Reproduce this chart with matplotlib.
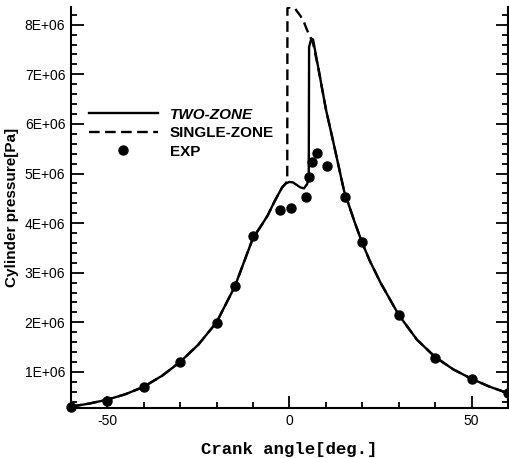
import matplotlib
matplotlib.use("Agg")
import matplotlib.pyplot as plt
from matplotlib.ticker import MultipleLocator

# crank angle [deg] and pressure [Pa]
two_zone_x = [-60, -55, -50, -45, -40, -35, -30, -25, -20, -15, -10, -8, -6, -4, -2,
              -1, 0, 1, 2, 3, 4, 4.8, 5.3, 5.4, 6, 6.5, 8, 10, 12, 15, 18, 20, 22,
              25, 30, 35, 40, 45, 50, 55, 60]
two_zone_y = [0.30e6, 0.36e6, 0.44e6, 0.55e6, 0.70e6, 0.92e6, 1.20e6, 1.55e6, 2.00e6,
              2.72e6, 3.70e6, 3.92e6, 4.15e6, 4.45e6, 4.72e6, 4.80e6, 4.83e6, 4.82e6,
              4.77e6, 4.72e6, 4.70e6, 4.78e6, 4.88e6, 7.55e6, 7.72e6, 7.70e6, 7.10e6,
              6.30e6, 5.65e6, 4.65e6, 4.00e6, 3.60e6, 3.25e6, 2.80e6, 2.15e6, 1.65e6,
              1.30e6, 1.05e6, 0.86e6, 0.70e6, 0.57e6]

single_zone_x = [-60, -55, -50, -45, -40, -35, -30, -25, -20, -15, -10, -8, -6, -4, -2,
                 -1, -0.6, -0.55, 0, 1.5, 3, 4, 4.8, 5.7, 6.5, 8, 10, 12, 15, 18, 20,
                 22, 25, 30, 35, 40, 45, 50, 55, 60]
single_zone_y = [0.30e6, 0.36e6, 0.44e6, 0.55e6, 0.70e6, 0.92e6, 1.20e6, 1.55e6, 2.00e6,
                 2.72e6, 3.70e6, 3.92e6, 4.15e6, 4.45e6, 4.72e6, 4.80e6, 4.85e6, 8.33e6,
                 8.35e6, 8.33e6, 8.18e6, 8.05e6, 7.90e6, 7.76e6, 7.62e6, 7.10e6, 6.30e6,
                 5.65e6, 4.65e6, 4.00e6, 3.60e6, 3.25e6, 2.80e6, 2.15e6, 1.65e6, 1.30e6,
                 1.05e6, 0.86e6, 0.70e6, 0.57e6]

exp_x = [-60, -50, -40, -30, -20, -15, -10, -2.7, 0.5, 4.5, 5.4, 6.3, 7.6, 10.3, 15.3,
         20, 30, 40, 50, 60]
exp_y = [0.30e6, 0.42e6, 0.69e6, 1.20e6, 1.99e6, 2.73e6, 3.74e6, 4.27e6, 4.31e6, 4.53e6,
         4.92e6, 5.24e6, 5.42e6, 5.15e6, 4.53e6, 3.62e6, 2.15e6, 1.28e6, 0.86e6, 0.57e6]

x_ticks = [-50, 0, 50]
y_ticks = [1e6, 2e6, 3e6, 4e6, 5e6, 6e6, 7e6, 8e6]
y_tick_labels = ['1E+06', '2E+06', '3E+06', '4E+06', '5E+06', '6E+06', '7E+06', '8E+06']

plt.rcParams['font.family'] = ['Liberation Sans', 'DejaVu Sans']

fig = plt.figure(figsize=(5.10, 4.58), dpi=100)
ax = fig.add_axes([0.139, 0.109, 0.857, 0.876])

ax.plot(two_zone_x, two_zone_y, color='black', lw=1.7, label='TWO-ZONE')
ax.plot(single_zone_x, single_zone_y, color='black', lw=1.7, dashes=(4.5, 2.3),
        label='SINGLE-ZONE')
ax.plot(exp_x, exp_y, 'o', color='black', ms=6.5, label='EXP', clip_on=False)

ax.set_xlim(-60, 60)
ax.set_ylim(0.27e6, 8.36e6)
ax.set_xticks(x_ticks)
ax.set_xticklabels(['-50', '0', '50'])
ax.set_yticks(y_ticks)
ax.set_yticklabels(y_tick_labels)
ax.xaxis.set_minor_locator(MultipleLocator(10))
ax.yaxis.set_minor_locator(MultipleLocator(0.2e6))

ax.spines['top'].set_visible(False)
for s in ['left', 'bottom', 'right']:
    ax.spines[s].set_linewidth(1.5)
ax.tick_params(which='both', direction='in', right=True, top=False, width=1.3,
               labelsize=10)
ax.tick_params(which='major', length=9, pad=4)
ax.tick_params(which='minor', length=4.5)

ax.set_xlabel('Crank angle[deg.]', family='Liberation Mono', fontweight='bold',
              fontsize=12.5, labelpad=10)
ax.set_ylabel('Cylinder pressure[Pa]', fontweight='bold', fontsize=11, labelpad=4)

leg = ax.legend(loc='upper left', bbox_to_anchor=(0.1745, 0.765),
                bbox_transform=fig.transFigure, frameon=False, borderpad=0,
                borderaxespad=0, handlelength=4.5, handletextpad=0.8,
                labelspacing=0.3, prop={'weight': 'bold', 'size': 11})
leg.get_texts()[0].set_style('italic')

fig.savefig('out.png', dpi=100)
